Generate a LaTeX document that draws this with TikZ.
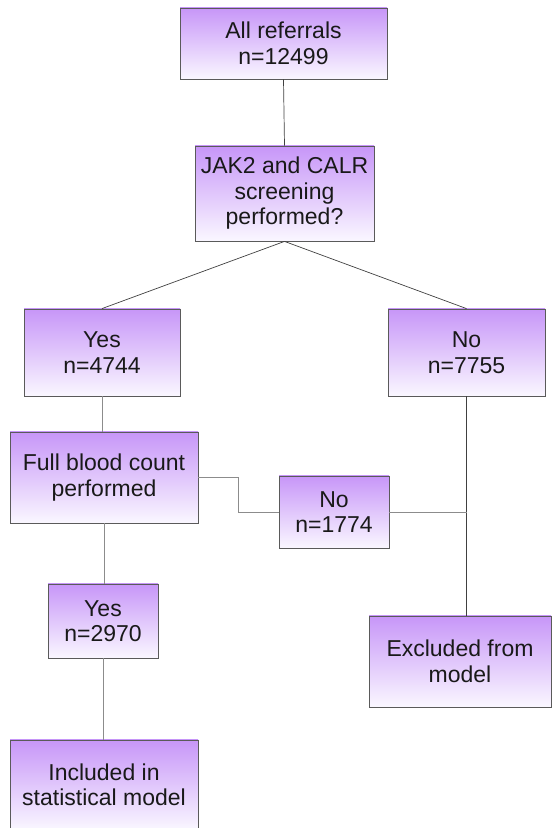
\documentclass[tikz,border=0pt]{standalone}
\usepackage{fontspec}
\setmainfont{Liberation Sans}
\begin{document}
\definecolor{boxtop}{RGB}{199,150,248}
\definecolor{boxbot}{RGB}{250,247,255}
\definecolor{boxline}{RGB}{90,90,90}
\begin{tikzpicture}[x=1pt,y=1pt,
  flowbox/.style={draw=boxline, line width=0.8pt, top color=boxtop, bottom color=boxbot,
    align=center, inner sep=0pt, font=\fontsize{23}{25.5}\selectfont, text=black!90},
  link/.style={draw=black!75, line width=0.7pt},
  softlink/.style={draw=black!45, line width=0.7pt}]
\useasboundingbox (0,0) rectangle (552,828);
\node[flowbox, minimum width=207, minimum height=71] (ref) at (283.5,784.5) {All referrals\\n=12499};
\node[flowbox, minimum width=179, minimum height=95] (jak) at (284.5,634.5) {JAK2 and CALR\\screening\\performed?};
\node[flowbox, minimum width=156, minimum height=87] (yes1) at (102,475.5) {Yes\\n=4744};
\node[flowbox, minimum width=157, minimum height=87] (no1) at (466.5,475.5) {No\\n=7755};
\node[flowbox, minimum width=188, minimum height=91] (fbc) at (104,350.5) {Full blood count\\performed};
\node[flowbox, minimum width=110, minimum height=72] (no2) at (334,316) {No\\n=1774};
\node[flowbox, minimum width=110, minimum height=74] (yes2) at (103,207) {Yes\\n=2970};
\node[flowbox, minimum width=182, minimum height=91] (excl) at (460,166.5) {Excluded from\\model};
\node[flowbox, minimum width=188, minimum height=90] (incl) at (104,43) {Included in\\statistical model};

\draw[link] (ref.south) -- (jak.north);
\draw[link] (jak.south) -- (yes1.north);
\draw[link] (jak.south) -- (no1.north);
\draw[softlink] (yes1.south) -- (yes1.south |- fbc.north);
\draw[link] (no1.south) -- (no1.south |- excl.north);
\draw[softlink] (fbc.east) -- ++(40,0) |- (no2.west);
\draw[softlink] (no2.east) -- (no2.east -| no1.south);
\draw[softlink] (fbc.south) -- (fbc.south |- yes2.north);
\draw[softlink] (yes2.south) -- (yes2.south |- incl.north);
\end{tikzpicture}
\end{document}
